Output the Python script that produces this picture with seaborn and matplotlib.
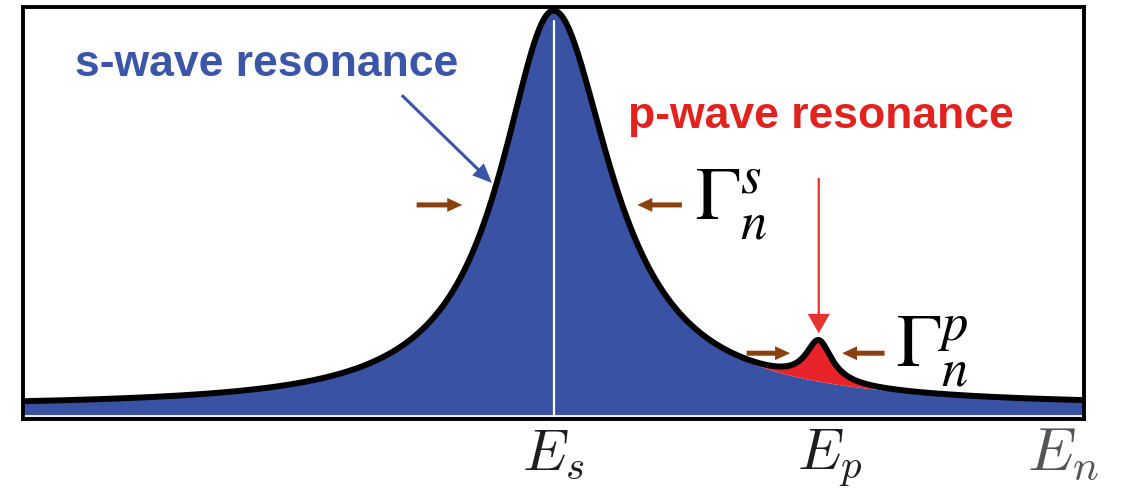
import numpy as np
import pandas as pd
import matplotlib
matplotlib.use("Agg")
import matplotlib.pyplot as plt
import seaborn as sns

# Resonance parameters (energy axis in arbitrary units spanning 0-100)
resonance_names = ["s-wave resonance", "p-wave resonance"]
resonance_energy = [50.0, 75.0]
resonance_height = [0.962, 0.10]
width_below = [6.1, 1.5]      # half-width on the low-energy side
width_above = [6.6, 1.5]      # half-width on the high-energy side
background = 0.029
axis_labels = [r"$E_s$", r"$E_p$", r"$E_n$"]
axis_label_pos = [50.0, 76.0, 98.0]
axis_label_size = [42, 42, 44]
width_labels = [r"$\Gamma_n^s$", r"$\Gamma_n^p$"]

BLUE_FILL = "#3a52a3"
BLUE_TEXT = "#3b55a8"
RED_FILL = "#e8232a"
RED_TEXT = "#e2221f"
BROWN = "#8b4010"


def breit_wigner(e, e0, height, g_lo, g_hi):
    g = np.where(e < e0, g_lo, g_hi)
    return height / (1.0 + ((e - e0) / g) ** 2)


energy = np.linspace(0, 100, 4001)
s_part = background + breit_wigner(energy, resonance_energy[0], resonance_height[0],
                                   width_below[0], width_above[0])
p_part = breit_wigner(energy, resonance_energy[1], resonance_height[1],
                      width_below[1], width_above[1])
df = pd.DataFrame({"energy": energy, "s": s_part, "total": s_part + p_part})

sns.set_theme(style="white")
fig = plt.figure(figsize=(11.4, 4.95), dpi=100)
ax = fig.add_axes([23 / 1140, 76 / 495, 1061 / 1140, 412 / 495])
ax.set_xlim(0, 100)
ax.set_ylim(0, 1)

# filled resonance areas
ax.fill_between(df["energy"], 0, df["s"], color=BLUE_FILL, lw=0, zorder=1)
ax.fill_between(df["energy"], df["s"], df["total"], where=p_part > 0.002,
                color=RED_FILL, lw=0, zorder=1)
ax.axhline(0.007, color="white", lw=1.3, zorder=2)
ax.plot([resonance_energy[0]] * 2, [0, 0.965], color="white", lw=1.6, zorder=2)

# outline of the total cross section
sns.lineplot(data=df, x="energy", y="total", color="black", lw=4.3,
             estimator=None, sort=False, ax=ax, zorder=3)

for sp in ax.spines.values():
    sp.set_visible(True)
    sp.set_color("black")
    sp.set_linewidth(2.8)
ax.set_xticks([])
ax.set_yticks([])
ax.set_xlabel("")
ax.set_ylabel("")

# resonance names
name_font = dict(fontsize=32, fontweight="bold",
                 family=["Liberation Sans", "DejaVu Sans"], ha="left", va="baseline")
ax.text(4.9, 0.8325, resonance_names[0], color=BLUE_TEXT, **name_font)
ax.text(57.0, 0.706, resonance_names[1], color=RED_TEXT, **name_font)


def arrow(start, end, color, hl, hw, tw, scale=10):
    ax.annotate("", xy=end, xytext=start, zorder=4,
                arrowprops=dict(arrowstyle=f"simple,head_length={hl},head_width={hw},tail_width={tw}",
                                mutation_scale=scale, color=color, lw=0,
                                shrinkA=0, shrinkB=0))


# pointer arrows to each resonance
arrow((35.7, 0.786), (44.2, 0.573), BLUE_TEXT, 1.4, 1.2, 0.22)
ep = resonance_energy[1]
arrow((ep, 0.585), (ep, 0.208), "#e53530", 1.4, 1.6, 0.16)

# width markers
es = resonance_energy[0]
y_s = background + resonance_height[0] * 0.51
arrow((es - width_below[0] - 6.8, y_s), (es - width_below[0] - 2.5, y_s), BROWN, 1.08, 1.0, 0.36)
arrow((es + width_above[0] + 5.5, y_s), (es + width_above[0] + 1.3, y_s), BROWN, 1.08, 1.0, 0.36)
y_p = df["s"].iloc[np.argmin(np.abs(energy - ep))] + resonance_height[1] * 0.68
arrow((ep - 6.8, y_p), (ep - 2.7, y_p), BROWN, 1.08, 1.0, 0.36)
arrow((ep + 6.2, y_p), (ep + 2.2, y_p), BROWN, 1.08, 1.0, 0.36)

ax.text(63.3, 0.52, width_labels[0], fontsize=54, color="black",
        math_fontfamily="stix", ha="left", va="center")
ax.text(82.3, 0.163, width_labels[1], fontsize=54, color="black",
        math_fontfamily="stix", ha="left", va="center")

# energy labels below the axis
label_colors = ["#1e1e1e", "#1e1e1e", "#555555"]
for lab, xpos, size, col in zip(axis_labels, axis_label_pos, axis_label_size, label_colors):
    ax.text(xpos, -0.124, lab, fontsize=size, color=col, math_fontfamily="cm",
            ha="center", va="baseline", transform=ax.get_xaxis_transform())

fig.savefig("out.png", dpi=100)
